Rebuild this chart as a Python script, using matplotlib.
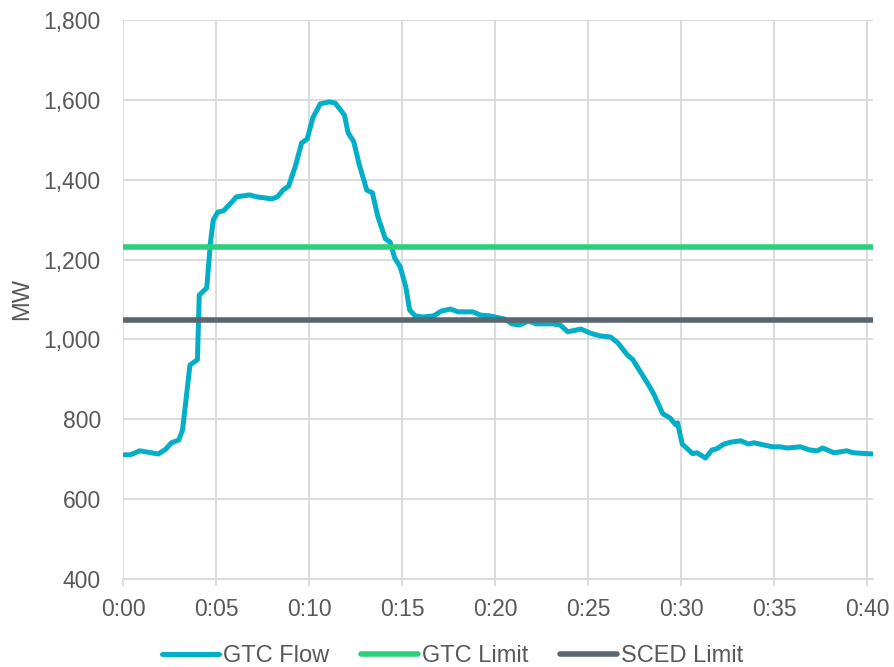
import numpy as np
import matplotlib.pyplot as plt

# GTC flow: minutes after start, MW
flow_min = [0.1, 0.4, 0.9, 1.9, 2.3, 2.6, 3.0, 3.2, 3.6, 4.0, 4.1, 4.5, 4.7, 4.85,
            5.1, 5.4, 5.75, 6.1, 6.8, 7.2, 8.0, 8.3, 8.6, 8.9, 9.25, 9.6, 9.9,
            10.2, 10.6, 11.1, 11.4, 11.9, 12.1, 12.4, 12.7, 13.1, 13.4, 13.7,
            14.1, 14.35, 14.6, 14.9, 15.2, 15.4, 15.7, 16.1, 16.7, 17.1, 17.6,
            18.0, 18.8, 19.2, 19.7, 20.5, 20.9, 21.3, 21.8, 22.2, 23.1, 23.5,
            23.9, 24.6, 25.1, 25.6, 26.2, 26.6, 27.1, 27.4, 28.2, 28.5, 29.0,
            29.4, 29.7, 29.8, 30.05, 30.6, 30.85, 31.3, 31.65, 31.9, 32.3, 32.7,
            33.2, 33.6, 33.9, 34.4, 34.9, 35.3, 35.7, 36.4, 36.9, 37.3, 37.6,
            38.2, 38.9, 39.25, 40.3]
flow_mw = [711, 711, 721, 713, 725, 741, 748, 773, 936, 949, 1111, 1129, 1242, 1299,
           1319, 1322, 1339, 1357, 1362, 1357, 1352, 1357, 1374, 1384, 1432, 1492, 1502,
           1555, 1590, 1595, 1592, 1562, 1517, 1495, 1437, 1374, 1367, 1307,
           1252, 1244, 1204, 1181, 1131, 1074, 1059, 1056, 1059, 1071, 1076,
           1069, 1069, 1061, 1059, 1051, 1039, 1036, 1046, 1039, 1039, 1036,
           1019, 1026, 1016, 1009, 1006, 991, 961, 949, 889, 865, 814,
           803, 786, 791, 738, 714, 716, 703, 723, 726, 738, 743,
           746, 738, 741, 736, 731, 731, 728, 731, 723, 721, 728,
           716, 721, 716, 713]

gtc_limit = 1232
sced_limit = 1048

x_ticks = [0, 5, 10, 15, 20, 25, 30, 35, 40]
x_labels = ["0:00", "0:05", "0:10", "0:15", "0:20", "0:25", "0:30", "0:35", "0:40"]
y_ticks = [400, 600, 800, 1000, 1200, 1400, 1600, 1800]

c_flow = "#03afc6"
c_gtc = "#2ccf7c"
c_sced = "#5b6770"
c_text = "#595959"
c_grid = "#d9d9d9"

plt.rcParams["font.family"] = ["Liberation Sans", "DejaVu Sans"]

fig = plt.figure(figsize=(8.95, 6.67), dpi=100)
ax = fig.add_axes([0.1374, 0.132, 0.838, 0.838])

x_end = flow_min[-1]
ax.plot(flow_min, flow_mw, color=c_flow, lw=3.6, solid_joinstyle="round",
        solid_capstyle="round", label="GTC Flow", zorder=3)
ax.plot([0, x_end], [gtc_limit, gtc_limit], color=c_gtc, lw=4.0,
        solid_capstyle="round", label="GTC Limit", zorder=3)
ax.plot([0, x_end], [sced_limit, sced_limit], color=c_sced, lw=4.0,
        solid_capstyle="round", label="SCED Limit", zorder=3)

ax.set_xlim(0, x_end)
ax.set_ylim(400, 1800)
ax.set_xticks(x_ticks)
ax.set_xticklabels(x_labels)
ax.set_yticks(y_ticks)
ax.set_yticklabels([f"{v:,}" for v in y_ticks])

ax.grid(True, color=c_grid, lw=1.3, zorder=0)
ax.set_axisbelow(True)
for s in ["top", "right", "left"]:
    ax.spines[s].set_visible(False)
ax.spines["bottom"].set_color(c_grid)
ax.spines["bottom"].set_linewidth(1.3)
ax.tick_params(axis="x", colors=c_grid, length=5, width=1.3, pad=9,
               labelcolor=c_text, labelsize=16.5)
ax.tick_params(axis="y", length=0, pad=16, labelcolor=c_text, labelsize=16.5)

ax.set_ylabel("MW", color=c_text, fontsize=17)
ax.yaxis.set_label_coords(-0.12, 0.5)

fig.legend(loc="center", bbox_to_anchor=(0.506, 0.016), ncol=3, frameon=False,
           fontsize=17, labelcolor=c_text, handlelength=2.4, handletextpad=0.17,
           columnspacing=1.36, borderpad=0)

fig.savefig("out.png", dpi=100)
